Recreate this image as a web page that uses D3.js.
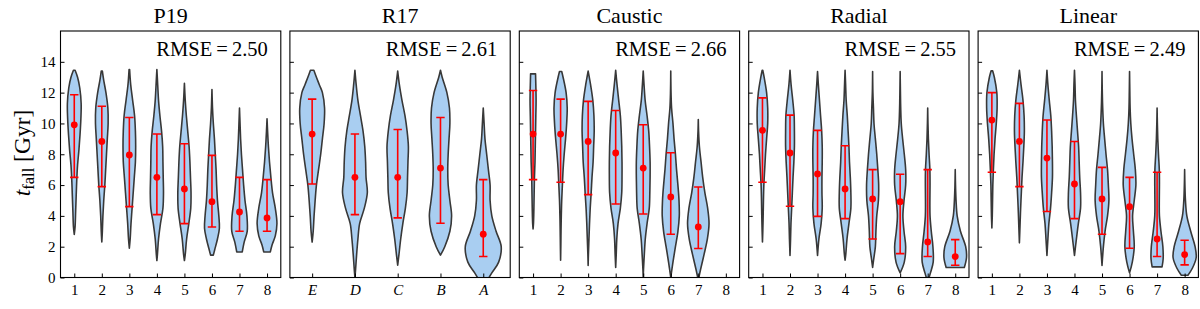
<!DOCTYPE html>
<html>
<head>
<meta charset="utf-8">
<script src="https://cdn.jsdelivr.net/npm/d3@7"></script>
<style>
body{margin:0;background:#fff}
svg{font-family:"Liberation Serif","DejaVu Serif",serif}
</style>
</head>
<body>
<script>
const titles = ["P19", "R17", "Caustic", "Radial", "Linear"]
const rmse = ["2.50", "2.61", "2.66", "2.55", "2.49"]
const numLabels = ["1", "2", "3", "4", "5", "6", "7", "8"]
const letterLabels = ["E", "D", "C", "B", "A"]
const yTicks = [0, 2, 4, 6, 8, 10, 12, 14]

// median of each violin and the red range bar (low / high)
const medians = [
  [9.91, 8.83, 7.95, 6.5, 5.75, 4.92, 4.25, 3.87],
  [9.31, 6.5, 6.5, 7.1, 2.81],
  [9.31, 9.31, 8.83, 8.08, 7.1, 5.23, 3.28],
  [9.55, 8.08, 6.72, 5.75, 5.1, 4.92, 2.31, 1.36],
  [10.22, 8.83, 7.75, 6.07, 5.1, 4.6, 2.5, 1.49]
]
const highs = [
  [11.86, 11.12, 10.39, 9.31, 8.68, 7.93, 6.5, 6.35],
  [11.58, 9.31, 9.61, 10.39, 6.35],
  [12.14, 11.58, 11.43, 10.84, 9.91, 8.1, 5.87],
  [11.66, 10.54, 9.55, 8.55, 7.0, 6.7, 7.0, 2.46],
  [12.0, 11.3, 10.22, 8.83, 7.15, 6.5, 6.83, 2.42]
]
const lows = [
  [6.5, 5.9, 4.6, 4.08, 3.5, 3.28, 3.0, 3.0],
  [6.07, 4.08, 3.87, 3.52, 1.36],
  [6.35, 6.18, 5.38, 4.77, 4.12, 2.81, 1.88],
  [6.18, 4.62, 3.97, 3.82, 2.5, 1.55, 1.36, 0.8],
  [6.83, 5.9, 4.28, 3.82, 2.81, 1.9, 1.36, 0.82]
]

// violin outlines: [t_fall, half width in x units]
const shapesP19 = [
  [[13.45,0.03],[13.0,0.12],[12.3,0.2],[11.3,0.25],[10.3,0.24],[9.3,0.21],[8.3,0.17],[7.3,0.12],[6.3,0.09],[5.3,0.07],[4.3,0.05],[3.3,0.03],[2.8,0]],
  [[13.4,0.02],[12.8,0.07],[12.0,0.15],[11.0,0.22],[10.0,0.23],[9.0,0.2],[8.0,0.17],[7.0,0.14],[6.0,0.11],[5.0,0.07],[4.0,0.04],[3.0,0.02],[2.3,0]],
  [[13.5,0.01],[12.5,0.05],[11.5,0.12],[10.5,0.19],[9.5,0.22],[8.5,0.23],[7.5,0.22],[6.5,0.18],[5.5,0.14],[4.5,0.1],[3.5,0.06],[2.5,0.03],[1.9,0]],
  [[13.5,0],[12.5,0.03],[11.5,0.06],[10.5,0.11],[9.5,0.17],[8.5,0.21],[7.5,0.22],[6.5,0.23],[5.5,0.24],[4.5,0.22],[3.5,0.13],[2.5,0.06],[1.5,0.02],[1.1,0]],
  [[12.6,0],[11.5,0.03],[10.5,0.07],[9.5,0.12],[8.5,0.17],[7.5,0.2],[6.5,0.22],[5.5,0.24],[4.5,0.23],[3.5,0.16],[2.5,0.08],[1.5,0.03],[1.1,0]],
  [[12.2,0],[11,0.02],[10,0.05],[9,0.09],[8,0.12],[7,0.15],[6,0.17],[5,0.2],[4,0.25],[3.2,0.27],[2.5,0.2],[1.8,0.1],[1.45,0.05]],
  [[11,0],[10,0.02],[9,0.04],[8,0.07],[7,0.11],[6,0.15],[5,0.2],[4,0.27],[3,0.28],[2.3,0.17],[1.66,0.1]],
  [[10.3,0],[9.5,0.02],[8.5,0.05],[7.5,0.09],[6.5,0.14],[5.5,0.2],[4.5,0.3],[3.5,0.36],[2.7,0.3],[2.1,0.18],[1.66,0.12]]
]
const shapesR17 = [
  [[13.45,0.04],[13,0.1],[12.5,0.17],[12,0.24],[11,0.29],[10,0.28],[9,0.24],[8,0.2],[7,0.15],[6,0.1],[5,0.07],[4,0.045],[3,0.025],[2.3,0]],
  [[13.45,0],[12.5,0.03],[11.5,0.07],[10.5,0.13],[9.5,0.19],[8.5,0.23],[7.5,0.25],[6.5,0.26],[5.5,0.29],[4.5,0.22],[3.5,0.11],[2.5,0.07],[1.5,0.04],[0.5,0.015],[0,0]],
  [[13.4,0],[12.5,0.04],[11.5,0.1],[10.5,0.17],[9.5,0.22],[8.5,0.25],[7.5,0.24],[6.5,0.23],[5.5,0.22],[4.5,0.18],[3.5,0.12],[2.5,0.07],[1.5,0.03],[0.8,0]],
  [[13.45,0],[13,0.04],[12,0.15],[11,0.21],[10,0.22],[9,0.2],[8,0.18],[7,0.17],[6,0.18],[5,0.22],[4,0.26],[3,0.22],[2,0.1],[1.45,0]],
  [[11,0],[10,0.02],[9,0.04],[8,0.08],[7,0.12],[6,0.16],[5,0.16],[4,0.2],[3,0.3],[2,0.42],[1,0.36],[0.3,0.2],[-0.4,0.05]]
]
const shapesCaustic = [
  [[13.22,0.09],[12.5,0.1],[11.5,0.11],[10.5,0.1],[9.5,0.09],[8.5,0.08],[7.5,0.07],[6.5,0.05],[5.5,0.04],[4.5,0.03],[3.5,0.015],[3.15,0]],
  [[13.37,0.04],[13,0.09],[12,0.2],[11,0.24],[10,0.22],[9,0.18],[8,0.13],[7,0.09],[6,0.065],[5,0.04],[4,0.025],[3,0.015],[2,0.008],[1.12,0]],
  [[13.4,0],[12.5,0.09],[11.5,0.17],[10.5,0.21],[9.5,0.22],[8.5,0.2],[7.5,0.18],[6.5,0.14],[5.5,0.11],[4.5,0.075],[3.5,0.05],[2.5,0.03],[1.5,0.01],[0.78,0]],
  [[13.45,0],[12.5,0.05],[11.5,0.11],[10.5,0.17],[9.5,0.2],[8.5,0.22],[7.5,0.23],[6.5,0.23],[5.5,0.22],[4.5,0.17],[3.5,0.085],[2.5,0.04],[1.5,0.02],[0.65,0]],
  [[13.4,0],[12.5,0.03],[11.5,0.07],[10.5,0.14],[9.5,0.2],[8.5,0.23],[7.5,0.25],[6.5,0.25],[5.5,0.24],[4.5,0.22],[3.5,0.14],[2.5,0.075],[1.5,0.04],[0.5,0.01],[0,0]],
  [[13.4,0],[12,0.01],[11,0.03],[10,0.08],[9,0.12],[8,0.17],[7,0.21],[6,0.26],[5,0.3],[4,0.31],[3,0.26],[2,0.17],[1,0.08],[0,0]],
  [[10.25,0],[9.5,0.01],[8.5,0.04],[7.5,0.1],[6.5,0.16],[5.5,0.24],[4.5,0.34],[3.5,0.39],[2.5,0.33],[1.5,0.21],[0.5,0.08],[0,0.02]]
]
const shapesRadial = [
  [[13.45,0.01],[13,0.06],[12,0.15],[11,0.19],[10,0.19],[9,0.15],[8,0.11],[7,0.08],[6,0.05],[5,0.035],[4,0.025],[3,0.012],[2.3,0]],
  [[13.45,0],[12.5,0.04],[11.5,0.1],[10.5,0.15],[9.5,0.16],[8.5,0.16],[7.5,0.14],[6.5,0.11],[5.5,0.085],[4.5,0.06],[3.5,0.035],[2.5,0.02],[1.43,0]],
  [[13.37,0],[12.5,0.03],[11.5,0.07],[10.5,0.11],[9.5,0.15],[8.5,0.17],[7.5,0.17],[6.5,0.16],[5.5,0.16],[4.5,0.17],[3.5,0.13],[2.5,0.05],[1.43,0]],
  [[13.45,0],[12.5,0.02],[11.5,0.04],[10.5,0.08],[9.5,0.11],[8.5,0.14],[7.5,0.16],[6.5,0.19],[5.5,0.21],[4.5,0.21],[3.5,0.14],[2.5,0.07],[1.5,0.025],[1.12,0]],
  [[13.37,0],[12,0.01],[11,0.03],[10,0.05],[9,0.1],[8,0.15],[7,0.19],[6,0.22],[5,0.21],[4,0.15],[3,0.12],[2,0.1],[1.2,0.04],[0.65,0]],
  [[13.37,0],[12,0.01],[11,0.02],[10,0.04],[9,0.09],[8,0.15],[7,0.2],[6,0.2],[5,0.14],[4,0.1],[3,0.14],[2,0.2],[1,0.15],[0.3,0]],
  [[11,0],[10,0.01],[9,0.025],[8,0.05],[7,0.08],[6,0.085],[5,0.08],[4,0.085],[3,0.13],[2,0.19],[1,0.2],[0.3,0.1],[0,0.05]],
  [[7,0],[6,0.01],[5,0.03],[4,0.07],[3,0.19],[2,0.38],[1.3,0.41],[0.65,0.33]]
]
const shapesLinear = [
  [[13.41,0.03],[13,0.09],[12,0.18],[11,0.19],[10,0.16],[9,0.115],[8,0.08],[7,0.055],[6,0.035],[5,0.025],[4,0.015],[3.22,0]],
  [[13.45,0],[12.5,0.06],[11.5,0.13],[10.5,0.17],[9.5,0.18],[8.5,0.16],[7.5,0.13],[6.5,0.095],[5.5,0.07],[4.5,0.045],[3.5,0.025],[2.25,0]],
  [[13.45,0],[12.5,0.035],[11.5,0.085],[10.5,0.14],[9.5,0.17],[8.5,0.19],[7.5,0.2],[6.5,0.2],[5.5,0.17],[4.5,0.13],[3.5,0.07],[2.5,0.035],[1.43,0]],
  [[13.45,0],[12.5,0.02],[11.5,0.035],[10.5,0.07],[9.5,0.11],[8.5,0.15],[7.5,0.17],[6.5,0.19],[5.5,0.22],[4.5,0.22],[3.5,0.14],[2.5,0.07],[1.43,0]],
  [[13.37,0],[12,0.01],[11,0.025],[10,0.05],[9,0.095],[8,0.145],[7,0.2],[6,0.23],[5,0.25],[4,0.2],[3,0.11],[2,0.05],[0.78,0]],
  [[13.37,0],[12,0.01],[11,0.02],[10,0.045],[9,0.09],[8,0.15],[7,0.21],[6,0.23],[5,0.17],[4,0.11],[3,0.14],[2,0.17],[1,0.1],[0.3,0]],
  [[11,0],[10,0.01],[9,0.025],[8,0.05],[7,0.08],[6,0.085],[5,0.08],[4,0.085],[3,0.14],[2,0.21],[1.2,0.22],[0.69,0.18]],
  [[7,0],[6,0.01],[5,0.03],[4,0.08],[3,0.22],[2,0.38],[1.3,0.42],[0.6,0.28],[0.15,0.12]]
]
const shapes = [shapesP19, shapesR17, shapesCaustic, shapesRadial, shapesLinear]

const width = 1200, height = 309
const left0 = 60.5, pw = 220.3, gap = 9.1
const topY = 31, bottomY = 277.5

const svg = d3.select("body").append("svg")
  .attr("width", width)
  .attr("height", height)

const y = d3.scaleLinear().domain([0, 16]).range([bottomY, topY])

titles.forEach(function(title, i){
  const x0 = left0 + i*(pw + gap)
  const isR17 = i === 1
  const labels = isR17 ? letterLabels : numLabels
  const x = d3.scaleLinear()
    .domain(isR17 ? [0.48, 5.63] : [0.5, 8.5])
    .range([x0, x0 + pw])

  const g = svg.append("g")

  g.append("clipPath").attr("id", "clip" + i)
    .append("rect")
    .attr("x", x0).attr("y", topY)
    .attr("width", pw).attr("height", bottomY - topY)

  const body = g.append("g").attr("clip-path", `url(#clip${i})`)

  shapes[i].forEach(function(s, j){
    const pos = j + 1
    const area = d3.area()
      .y(d => y(d[0]))
      .x0(d => x(pos - d[1]))
      .x1(d => x(pos + d[1]))
      .curve(d3.curveCatmullRom)
    body.append("path")
      .attr("d", area(s))
      .attr("fill", "#a9cef1")
      .attr("stroke", "#383838")
      .attr("stroke-width", 1.6)
      .attr("stroke-linejoin", "round")
  })

  // red range bars with caps and median dot
  const cap = 4.2
  medians[i].forEach(function(m, j){
    const cx = x(j + 1)
    const eb = body.append("g").attr("stroke", "#ff0000").attr("stroke-width", 1.6)
    eb.append("line").attr("x1", cx).attr("x2", cx).attr("y1", y(lows[i][j])).attr("y2", y(highs[i][j]))
    eb.append("line").attr("x1", cx - cap).attr("x2", cx + cap).attr("y1", y(lows[i][j])).attr("y2", y(lows[i][j]))
    eb.append("line").attr("x1", cx - cap).attr("x2", cx + cap).attr("y1", y(highs[i][j])).attr("y2", y(highs[i][j]))
    body.append("circle").attr("cx", cx).attr("cy", y(m)).attr("r", 3.4).attr("fill", "#ff0000")
  })

  // axes, ticks pointing inwards
  const xAxis = d3.axisBottom(x)
    .tickValues(labels.map((d, k) => k + 1))
    .tickFormat(d => labels[d - 1])
    .tickSize(-4)
    .tickPadding(7)
  const gx = g.append("g").attr("transform", `translate(0,${bottomY})`).call(xAxis)
    .attr("font-size", 15)
    .attr("font-family", "Liberation Serif")
    .attr("font-style", isR17 ? "italic" : "normal")
  gx.select(".domain").remove()
  gx.selectAll("text").attr("fill", "#000")
  gx.selectAll("line").attr("stroke", "#000")

  const yAxis = d3.axisLeft(y)
    .tickValues(yTicks)
    .tickSize(-4)
    .tickPadding(5)
    .tickFormat(i === 0 ? d3.format("d") : () => "")
  const gy = g.append("g").attr("transform", `translate(${x0},0)`).call(yAxis)
    .attr("font-size", 15)
    .attr("font-family", "Liberation Serif")
  gy.select(".domain").remove()
  gy.selectAll("text").attr("fill", "#000")
  gy.selectAll("line").attr("stroke", "#000")

  g.append("rect")
    .attr("x", x0).attr("y", topY)
    .attr("width", pw).attr("height", bottomY - topY)
    .attr("fill", "none").attr("stroke", "#000").attr("stroke-width", 1.1)

  g.append("text")
    .attr("x", x0 + pw/2).attr("y", 23)
    .attr("text-anchor", "middle")
    .attr("font-size", 22)
    .text(title)

  g.append("text")
    .attr("x", x0 + pw - 13).attr("y", 56)
    .attr("text-anchor", "end")
    .attr("font-size", 20.5)
    .text("RMSE\u2009=\u2009" + rmse[i])
})

// y label: t_fall [Gyr]
const yl = svg.append("text")
  .attr("transform", "translate(30,153) rotate(-90)")
  .attr("text-anchor", "middle")
  .attr("font-size", 23.5)
yl.append("tspan").style("font-style", "italic").text("t")
yl.append("tspan").attr("font-size", 16.5).attr("dy", 4).text("fall")
yl.append("tspan").attr("dy", -4).text(" [Gyr]")
</script>
</body>
</html>
